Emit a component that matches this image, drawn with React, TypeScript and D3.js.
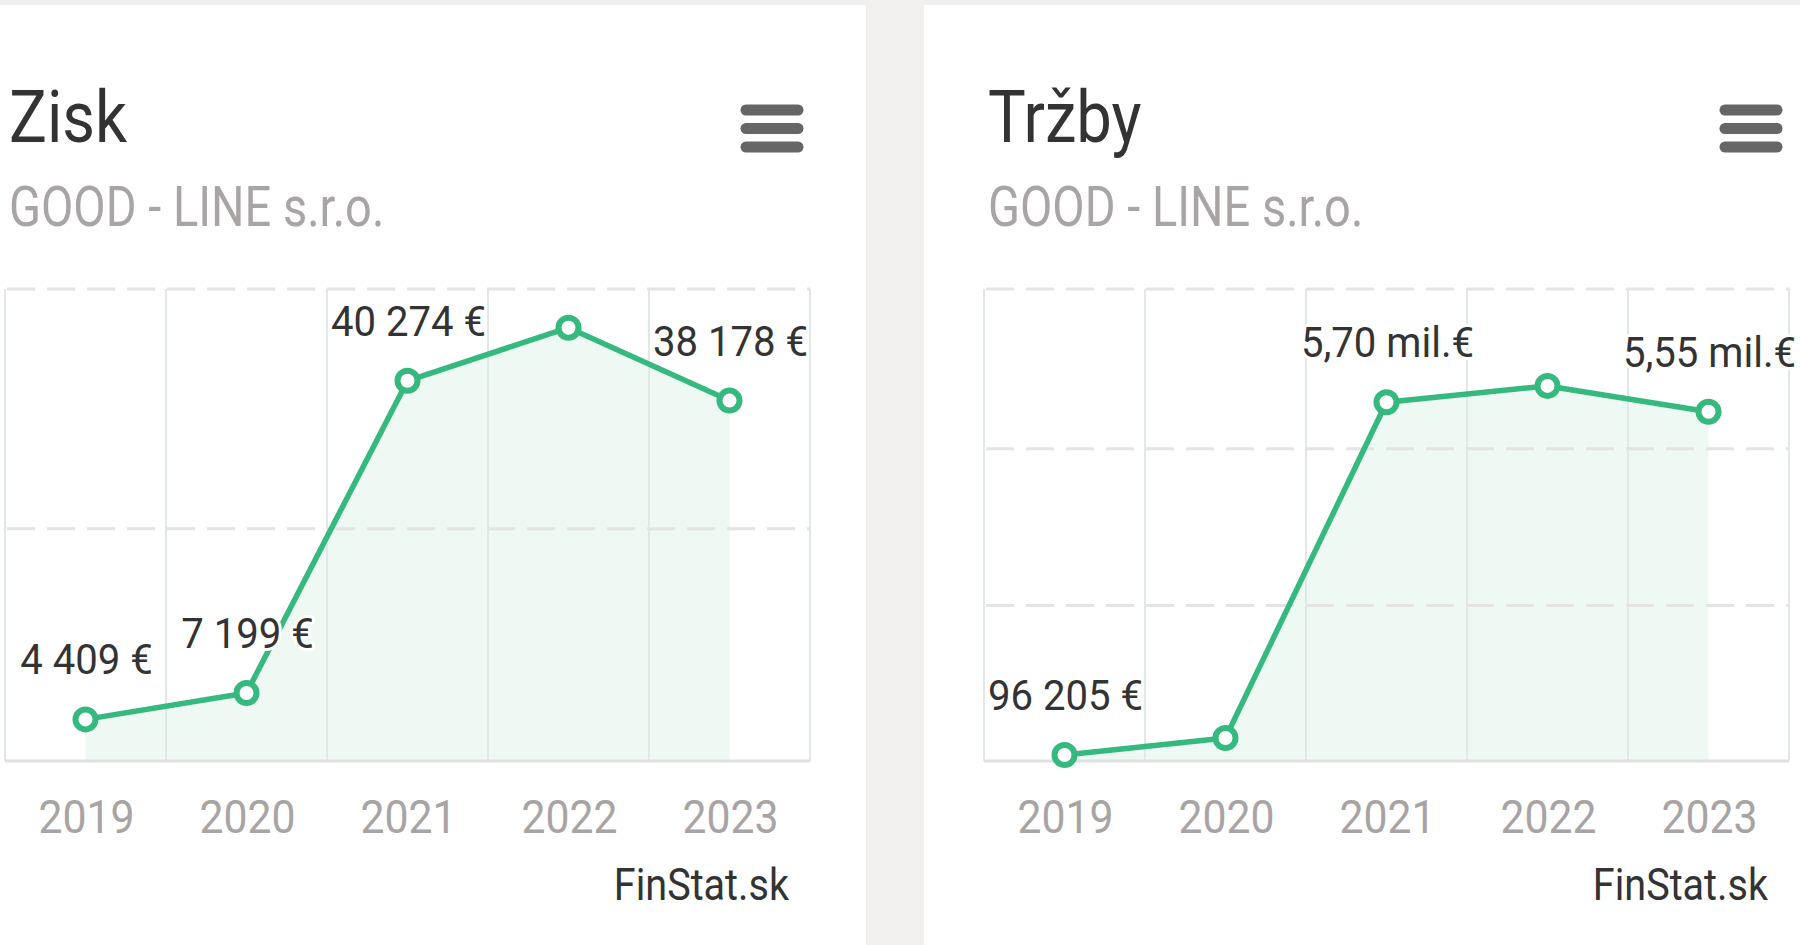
import React from "react";
import * as d3 from "d3";

const years = ["2019", "2020", "2021", "2022", "2023"];

const ziskValues = [4409, 7199, 40274, 45900, 38178];
const ziskLabels = ["4 409 €", "7 199 €", "40 274 €", "", "38 178 €"];
const ziskTicks = [0, 24600, 50000];

const trzbyValues = [96205, 366000, 5700000, 5960000, 5550000];
const trzbyLabels = ["96 205 €", "", "5,70 mil.€", "", "5,55 mil.€"];
const trzbyTicks = [0, 2470000, 4960000, 7500000];

const W = 1800;
const H = 945;
const GREEN = "#35b97f";

type PanelProps = {
  ox: number;
  title: string;
  subtitle: string;
  values: number[];
  labels: string[];
  ticks: number[];
};

function T(props: {
  x: number;
  y: number;
  sx: number;
  size: number;
  fill: string;
  anchor?: string;
  halo?: boolean;
  children: React.ReactNode;
}) {
  const { x, y, sx, size, fill, anchor, halo, children } = props;
  return (
    <text
      transform={`translate(${x},${y}) scale(${sx},1)`}
      fontFamily="Roboto, 'Noto Sans', sans-serif"
      fontSize={size}
      fill={fill}
      textAnchor={anchor || "start"}
      stroke={halo ? "#ffffff" : "none"}
      strokeWidth={halo ? 6 : 0}
      strokeLinejoin="round"
      style={{ paintOrder: "stroke" }}
    >
      {children}
    </text>
  );
}

function Panel({ ox, title, subtitle, values, labels, ticks }: PanelProps) {
  const plotL = ox + 60;
  const plotR = ox + 865;
  const y0 = 761;
  const yTop = 289;
  const x = d3.scaleBand<string>().domain(years).range([plotL, plotR]);
  const y = d3
    .scaleLinear()
    .domain([0, ticks[ticks.length - 1]])
    .range([y0, yTop]);
  const cx = (i: number) => (x(years[i]) as number) + x.bandwidth() / 2;

  const line = d3
    .line<number>()
    .x((_, i) => cx(i))
    .y((d) => y(d));
  const area = d3
    .area<number>()
    .x((_, i) => cx(i))
    .y0(y0)
    .y1((d) => y(d));

  const boundaries = years.map((yr) => x(yr) as number).concat([plotR]);

  return (
    <g>
      <rect x={ox} y={5} width={921} height={H} fill="#ffffff" />
      <T x={ox + 64} y={142} sx={0.88} size={72} fill="#333333">
        {title}
      </T>
      <T x={ox + 64} y={226} sx={0.855} size={55} fill="#a9a5a5">
        {subtitle}
      </T>
      {[110, 128.5, 147].map((yy) => (
        <line
          key={yy}
          x1={ox + 801}
          x2={ox + 853}
          y1={yy}
          y2={yy}
          stroke="#666666"
          strokeWidth={11}
          strokeLinecap="round"
        />
      ))}
      <path d={area(values) || ""} fill="#eef9f4" />
      {boundaries.map((bx, i) => (
        <line
          key={"v" + i}
          x1={bx}
          x2={bx}
          y1={yTop}
          y2={y0}
          stroke="#e0e9e7"
          strokeWidth={2}
        />
      ))}
      {ticks.map((t, i) =>
        t === 0 ? (
          <line
            key={"h" + i}
            x1={plotL}
            x2={plotR}
            y1={y(t)}
            y2={y(t)}
            stroke="#e0e0e0"
            strokeWidth={3}
          />
        ) : (
          <line
            key={"h" + i}
            x1={plotL + 2}
            x2={plotR}
            y1={y(t)}
            y2={y(t)}
            stroke="#e4e4e4"
            strokeWidth={3}
            strokeDasharray="28 12"
          />
        )
      )}
      <path
        d={line(values) || ""}
        fill="none"
        stroke={GREEN}
        strokeWidth={5.5}
        strokeLinejoin="round"
      />
      {values.map((v, i) => (
        <circle
          key={"c" + i}
          cx={cx(i)}
          cy={y(v)}
          r={10}
          fill="#ffffff"
          stroke={GREEN}
          strokeWidth={6}
        />
      ))}
      {values.map((v, i) =>
        labels[i] ? (
          <T
            key={"l" + i}
            x={cx(i) + 1}
            y={y(v) - 45}
            sx={0.955}
            size={42}
            fill="#333333"
            anchor="middle"
            halo
          >
            {labels[i]}
          </T>
        ) : null
      )}
      {years.map((yr, i) => (
        <T
          key={"a" + i}
          x={cx(i) + 1}
          y={833}
          sx={0.93}
          size={46}
          fill="#a8a4a4"
          anchor="middle"
        >
          {yr}
        </T>
      ))}
      <T x={ox + 844} y={900} sx={0.9} size={44} fill="#333333" anchor="end">
        FinStat.sk
      </T>
    </g>
  );
}

export default function App() {
  return (
    <div style={{ position: "fixed", left: 0, top: 0, width: W, height: H }}>
      <svg width={W} height={H} viewBox={`0 0 ${W} ${H}`} style={{ display: "block" }}>
        <rect x={0} y={0} width={W} height={H} fill="#f1f0ee" />
        <Panel
          ox={-55}
          title="Zisk"
          subtitle="GOOD - LINE s.r.o."
          values={ziskValues}
          labels={ziskLabels}
          ticks={ziskTicks}
        />
        <Panel
          ox={924}
          title="Tržby"
          subtitle="GOOD - LINE s.r.o."
          values={trzbyValues}
          labels={trzbyLabels}
          ticks={trzbyTicks}
        />
      </svg>
    </div>
  );
}
